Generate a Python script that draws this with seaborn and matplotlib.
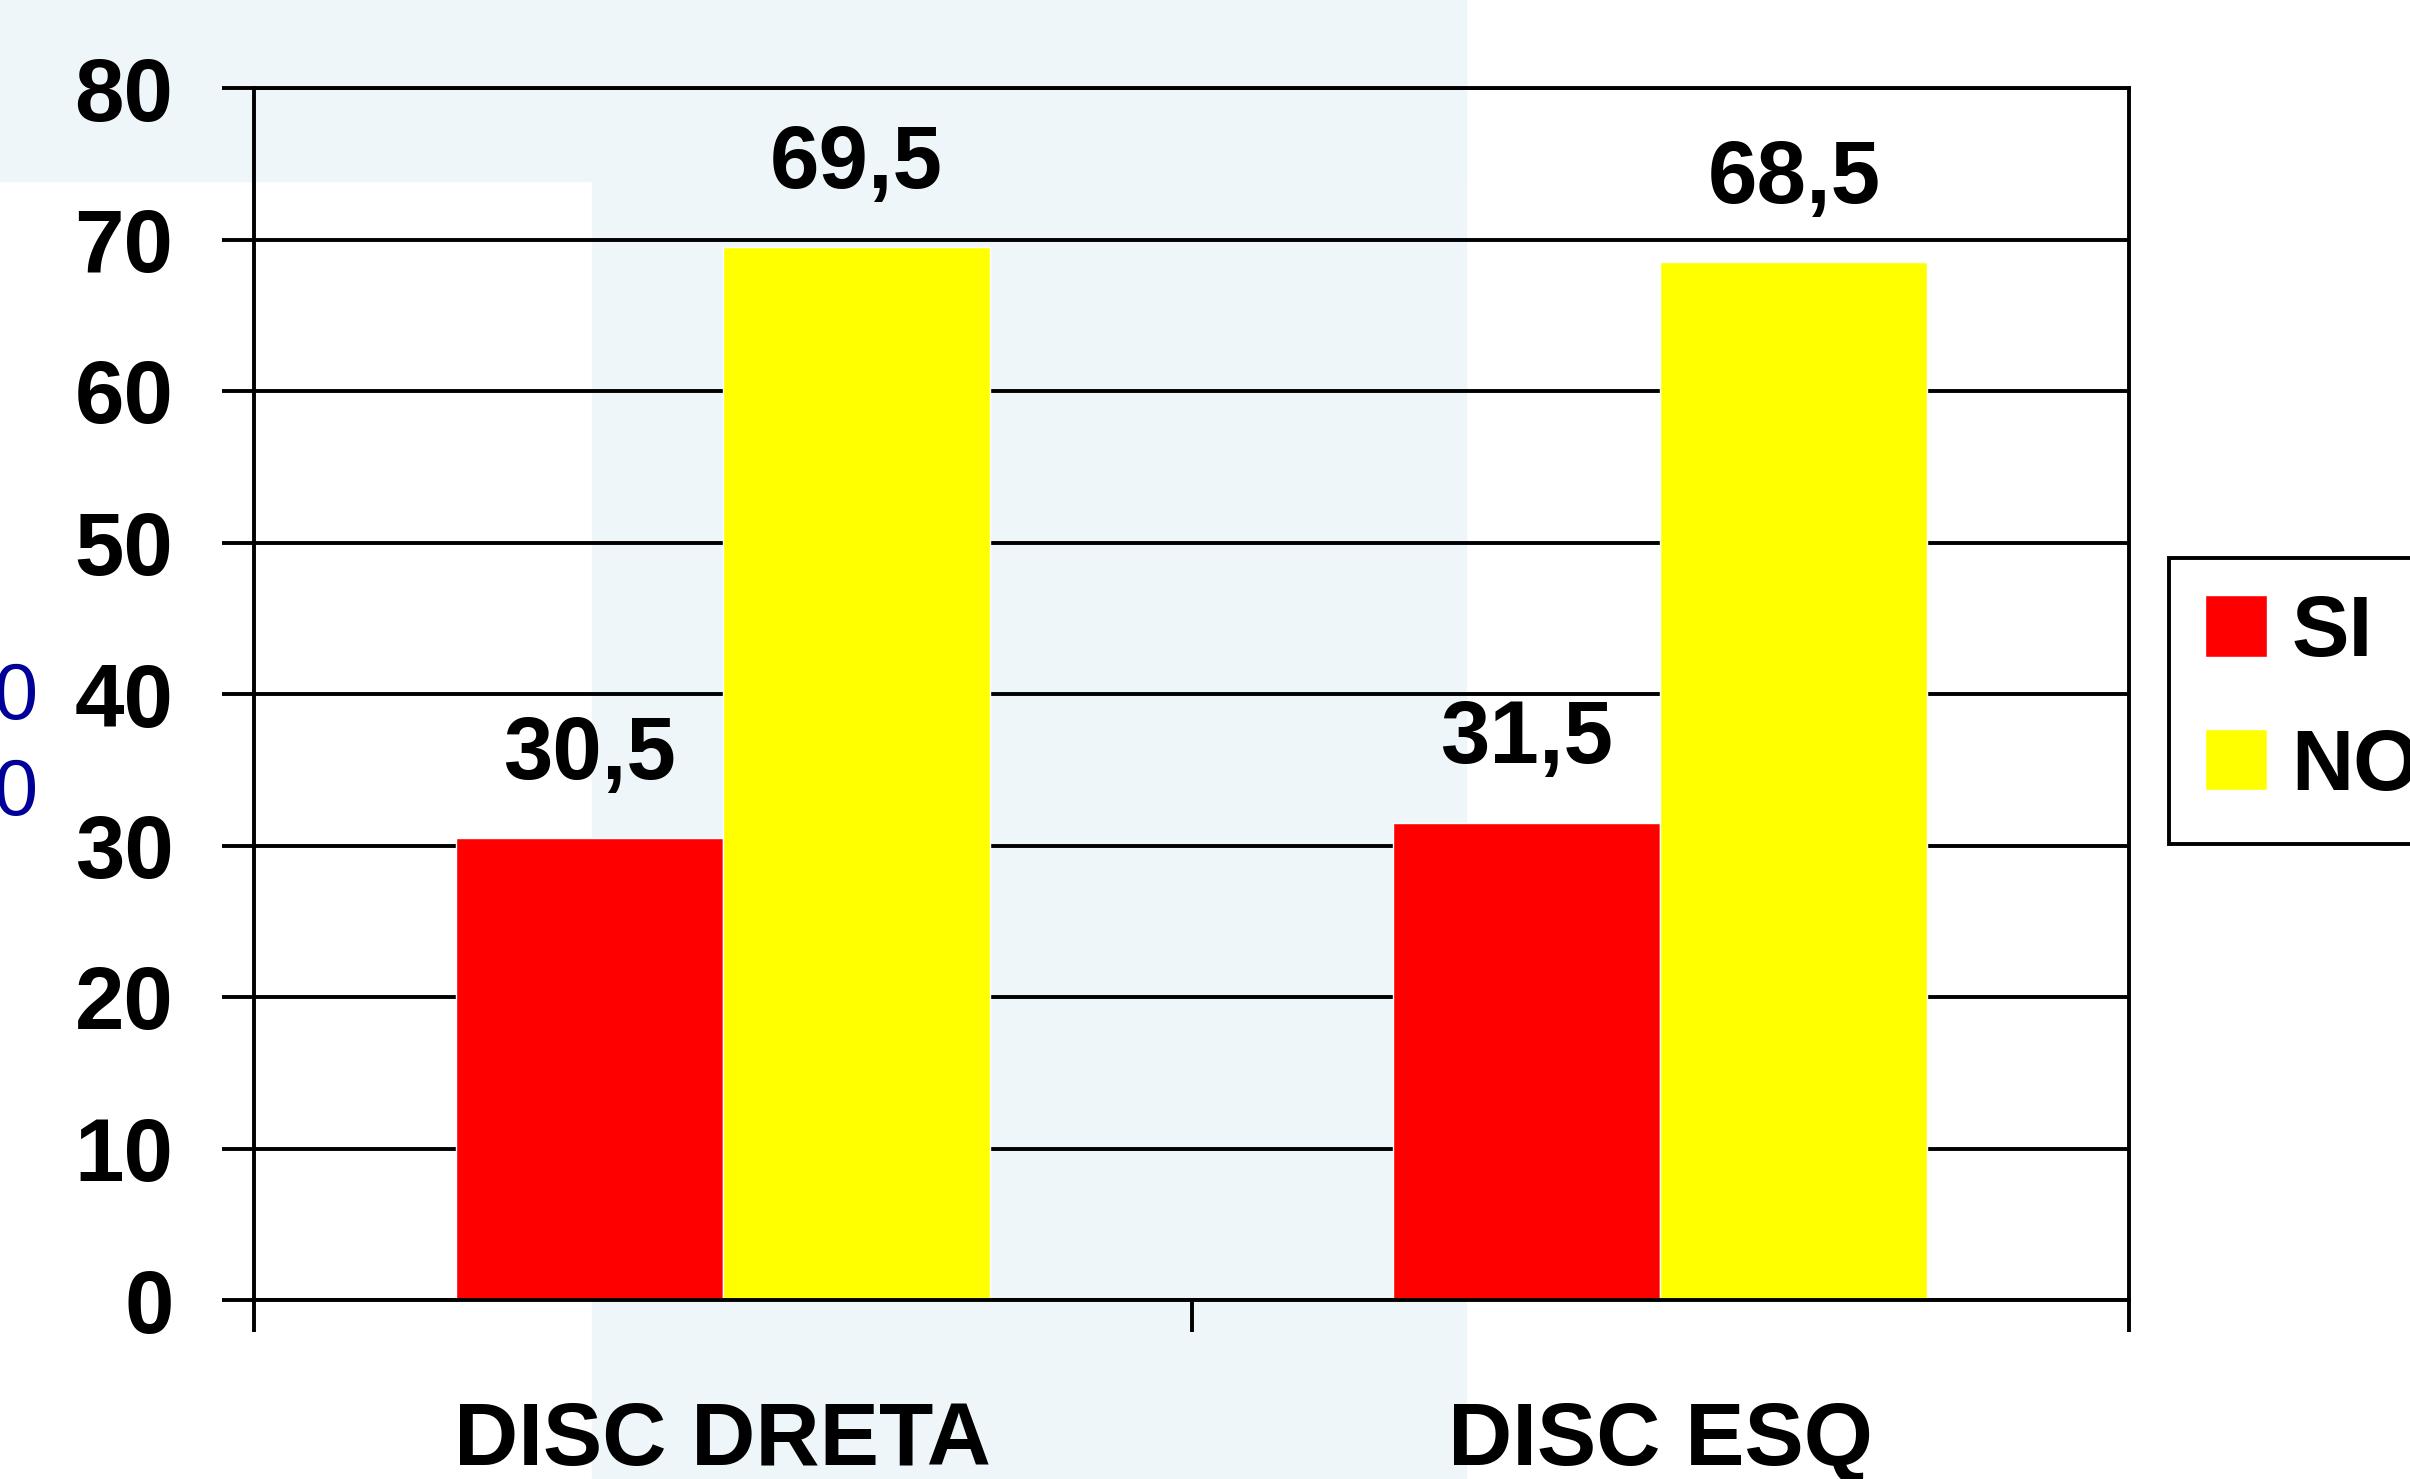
import pandas as pd
import matplotlib.pyplot as plt
import seaborn as sns
from matplotlib.patches import Rectangle, Patch

# Data
categories = ['DISC DRETA', 'DISC ESQ']
si_values = [30.5, 31.5]
no_values = [69.5, 68.5]
y_ticks = [0, 10, 20, 30, 40, 50, 60, 70, 80]

df = pd.DataFrame({
    'categoria': categories * 2,
    'resposta': ['SI'] * len(categories) + ['NO'] * len(categories),
    'valor': si_values + no_values,
})

sns.set_style('white')
plt.rcParams['font.family'] = ['Liberation Sans', 'DejaVu Sans']
plt.rcParams['text.color'] = 'black'
plt.rcParams['xtick.color'] = 'black'
plt.rcParams['ytick.color'] = 'black'

W, H = 2410, 1479
fig = plt.figure(figsize=(W / 100, H / 100), dpi=100)
fig.patch.set_facecolor('white')

# light blue background shapes of the slide
bg = '#eef6fa'
fig.patches.append(Rectangle((0, 1 - 181 / H), 1466 / W, 181 / H,
                             transform=fig.transFigure, color=bg, zorder=-10))
fig.patches.append(Rectangle((592 / W, 0), (1466 - 592) / W, 1,
                             transform=fig.transFigure, color=bg, zorder=-10))

# clipped blue text at the left edge
fig.text(38 / W, 1 - 698 / H, '0', ha='right', va='center', color='#000099', fontsize=57)
fig.text(38 / W, 1 - 794 / H, '0', ha='right', va='center', color='#000099', fontsize=57)

ax = fig.add_axes([254 / W, 1 - 1300 / H, (2129 - 254) / W, (1300 - 88) / H])
ax.set_facecolor('none')

sns.barplot(data=df, x='categoria', y='valor', hue='resposta',
            palette={'SI': '#ff0000', 'NO': '#ffff00'}, saturation=1,
            width=0.57, legend=False, ax=ax)

for cont, vals in zip(ax.containers, [si_values, no_values]):
    ax.bar_label(cont, labels=[f'{v:.1f}'.replace('.', ',') for v in vals],
                 padding=29, fontsize=64, fontweight='bold', color='black')

ax.set_ylim(0, 80)
ax.set_xlim(-0.5, 1.5)
ax.set_yticks(y_ticks)
ax.set_xlabel('')
ax.set_ylabel('')
ax.set_axisbelow(True)
ax.yaxis.grid(True, color='black', linewidth=2.8)

for side in ['left', 'right', 'top', 'bottom']:
    ax.spines[side].set_visible(True)
    ax.spines[side].set_color('black')
    ax.spines[side].set_linewidth(2.8)

ax.tick_params(axis='y', which='major', left=True, length=23, width=2.8, color='black',
               pad=35, labelsize=64, labelcolor='black')
ax.tick_params(axis='x', which='major', bottom=True, length=0, pad=72, labelsize=64,
               labelcolor='black')
ax.set_xticks([-0.5, 0.5, 1.5], minor=True)
ax.tick_params(axis='x', which='minor', bottom=True, length=23, width=2.8, color='black',
               direction='out')
for lbl in ax.get_yticklabels() + ax.get_xticklabels():
    lbl.set_fontweight('bold')

handles = [Patch(facecolor='#ff0000', label='SI'), Patch(facecolor='#ffff00', label='NO')]
leg = fig.legend(handles=handles, loc='upper left', bbox_to_anchor=(2169 / W, 1 - 558 / H),
                 frameon=True, fancybox=False, edgecolor='black', framealpha=1,
                 prop={'weight': 'bold', 'size': 62}, handlelength=0.72, handleheight=0.72,
                 handletextpad=0.28, labelspacing=0.62, borderpad=0.42, borderaxespad=0)
leg.get_frame().set_linewidth(2.8)

fig.savefig('out.png', dpi=100)
